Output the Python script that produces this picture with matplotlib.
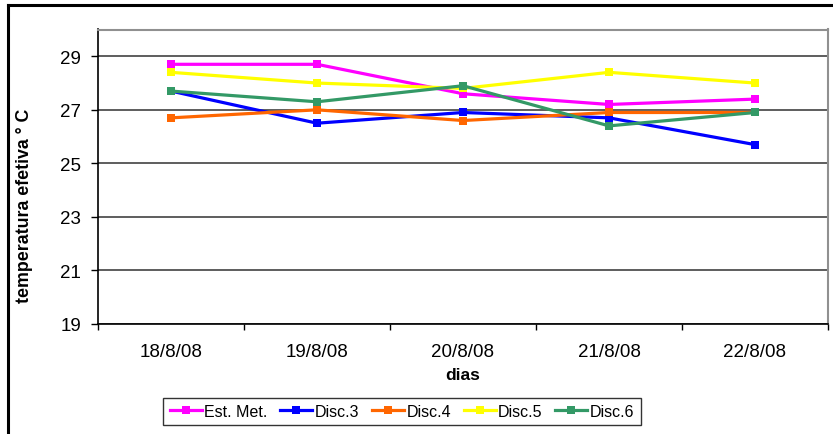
import matplotlib
matplotlib.use("Agg")
import matplotlib.pyplot as plt
from matplotlib.lines import Line2D
import numpy as np

plt.rcParams['font.family'] = ['Liberation Sans', 'DejaVu Sans']

dias = ["18/8/08", "19/8/08", "20/8/08", "21/8/08", "22/8/08"]
est_met = [28.7, 28.7, 27.6, 27.2, 27.4]
disc3 = [27.7, 26.5, 26.9, 26.7, 25.7]
disc4 = [26.7, 27.0, 26.6, 26.9, 26.9]
disc5 = [28.4, 28.0, 27.8, 28.4, 28.0]
disc6 = [27.7, 27.3, 27.9, 26.4, 26.9]

series = [
    ("Est. Met.", est_met, "#FF00FF"),
    ("Disc.3", disc3, "#0000FF"),
    ("Disc.4", disc4, "#FF6600"),
    ("Disc.5", disc5, "#FFFF00"),
    ("Disc.6", disc6, "#339966"),
]
yticks = [19, 21, 23, 25, 27, 29]

W, H = 833, 435
fig = plt.figure(figsize=(W / 100, H / 100), dpi=100)
ax = fig.add_axes([98 / W, 1 - 325 / H, (828 - 98) / W, (325 - 30.5) / H])

x = np.arange(len(dias))
for label, vals, color in series:
    ax.plot(x, vals, color=color, lw=2.3, marker="s", markersize=6,
            markeredgewidth=0, label=label, zorder=3)

ax.set_xlim(-0.5, len(dias) - 0.5)
ax.set_ylim(19, 30)
ax.set_yticks(yticks)
ax.set_yticklabels([str(v) for v in yticks], fontsize=13.5)
ax.set_xticks(x)
ax.set_xticklabels(dias, fontsize=13.5)
ax.set_xticks(np.arange(-0.5, len(dias), 1.0), minor=True)
ax.tick_params(axis="x", which="major", length=0, pad=14)
ax.tick_params(axis="x", which="minor", length=4.5, width=1, direction="out", color="black")
ax.tick_params(axis="y", length=5, width=1, direction="out", pad=7, color="black")

ax.grid(axis="y", color="#505050", lw=1.3, zorder=1)
for side in ("top", "right"):
    ax.spines[side].set_color("#909090")
    ax.spines[side].set_linewidth(1.5)
for side in ("left", "bottom"):
    ax.spines[side].set_color("black")
    ax.spines[side].set_linewidth(1.2)

ax.set_xlabel("dias", fontsize=12.5, fontweight="bold", labelpad=5)
ax.set_ylabel("temperatura efetiva ° C", fontsize=12.8, fontweight="bold")
ax.yaxis.set_label_coords(-0.089, 0.405)

leg = fig.legend(loc="center", bbox_to_anchor=(402 / W, 1 - 412.5 / H), ncol=5,
                 fontsize=11.5, frameon=True, fancybox=False, edgecolor="black",
                 handlelength=2.0, handletextpad=0.15, columnspacing=0.8,
                 borderpad=0.4, borderaxespad=0)
leg.get_frame().set_linewidth(1.0)

# outer chart frame
fig.add_artist(Line2D([8 / W, 8 / W], [0, 1 - 5.5 / H], color="black", lw=2.2,
                      transform=fig.transFigure))
fig.add_artist(Line2D([8 / W, 1], [1 - 5.5 / H, 1 - 5.5 / H], color="black", lw=2.2,
                      transform=fig.transFigure))

fig.savefig("out.png", dpi=100, facecolor="white")
